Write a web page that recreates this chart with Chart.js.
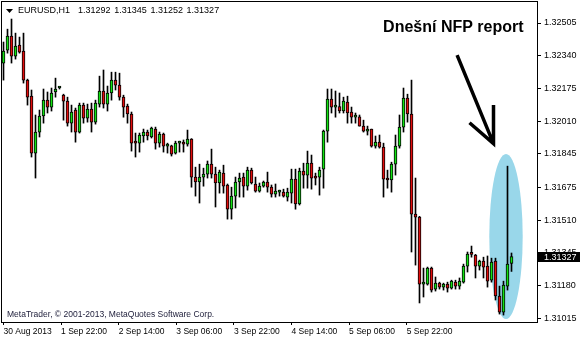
<!DOCTYPE html>
<html>
<head>
<meta charset="utf-8">
<script src="https://cdn.jsdelivr.net/npm/chart.js@4.4.1/dist/chart.umd.min.js"></script>
<style>
    html, body { margin: 0; padding: 0; background: #fff; }
</style>
</head>
<body>
<canvas id="eurusdChart" width="580" height="340"></canvas>
<script>
const symbolTitle = "EURUSD,H1";
const lastBarOhlc = ["1.31292", "1.31345", "1.31252", "1.31327"];
const nfpNote = "Dnešní NFP report";
const copyrightNote = "MetaTrader, © 2001-2013, MetaQuotes Software Corp.";

// hourly bars, oldest first
const openPrices = [
    1.32303, 1.32368, 1.32439, 1.32338, 1.32394, 1.32363, 1.32217, 1.32136, 1.31849, 1.31955,
    1.32036, 1.32116, 1.32081, 1.32157, 1.32177, 1.32141, 1.32111, 1.32000, 1.32066, 1.31955,
    1.32091, 1.32025, 1.32071, 1.32005, 1.32096, 1.32162, 1.32096, 1.32152, 1.32217, 1.32192,
    1.32131, 1.32086, 1.32046, 1.31904, 1.31899, 1.31935, 1.31955, 1.31930, 1.31970, 1.31899,
    1.31945, 1.31884, 1.31886, 1.31849, 1.31899, 1.31904, 1.31894, 1.31920, 1.31728, 1.31703,
    1.31728, 1.31743, 1.31793, 1.31743, 1.31698, 1.31748, 1.31688, 1.31566, 1.31632, 1.31703,
    1.31728, 1.31682, 1.31763, 1.31693, 1.31657, 1.31682, 1.31703, 1.31677, 1.31642, 1.31652,
    1.31652, 1.31627, 1.31647, 1.31718, 1.31592, 1.31758, 1.31738, 1.31798, 1.31728, 1.31728,
    1.31768, 1.31960, 1.32121, 1.32081, 1.32083, 1.32061, 1.32106, 1.32056, 1.32030, 1.32032,
    1.31985, 1.31960, 1.31970, 1.31884, 1.31904, 1.31879, 1.31723, 1.31713, 1.31793, 1.31884,
    1.31980, 1.32126, 1.32046, 1.31541, 1.31526, 1.31188, 1.31188, 1.31269, 1.31163, 1.31193,
    1.31173, 1.31188, 1.31168, 1.31198, 1.31178, 1.31198, 1.31279, 1.31340, 1.31335, 1.31279,
    1.31304, 1.31279, 1.31208, 1.31304, 1.31128, 1.31047, 1.31178, 1.31292
];
const highPrices = [
    1.32409, 1.32474, 1.32525, 1.32454, 1.32434, 1.32454, 1.32222, 1.32167, 1.32041, 1.32066,
    1.32172, 1.32157, 1.32177, 1.32227, 1.32182, 1.32146, 1.32131, 1.32091, 1.32076, 1.32101,
    1.32101, 1.32096, 1.32101, 1.32116, 1.32237, 1.32268, 1.32187, 1.32257, 1.32257, 1.32252,
    1.32141, 1.32096, 1.32056, 1.31950, 1.31950, 1.31970, 1.31965, 1.31980, 1.31980, 1.31955,
    1.31950, 1.31899, 1.31889, 1.31909, 1.31909, 1.31915, 1.31965, 1.31922, 1.31778, 1.31793,
    1.31773, 1.31809, 1.31869, 1.31778, 1.31763, 1.31788, 1.31693, 1.31677, 1.31728, 1.31748,
    1.31748, 1.31778, 1.31773, 1.31728, 1.31698, 1.31708, 1.31753, 1.31688, 1.31693, 1.31662,
    1.31667, 1.31672, 1.31768, 1.31768, 1.31773, 1.31798, 1.31859, 1.31839, 1.31748, 1.31778,
    1.31965, 1.32172, 1.32172, 1.32162, 1.32152, 1.32131, 1.32136, 1.32081, 1.32051, 1.32041,
    1.32015, 1.31985, 1.31970, 1.31935, 1.31940, 1.31899, 1.31763, 1.31803, 1.31940, 1.32041,
    1.32177, 1.32146, 1.32217, 1.31723, 1.31530, 1.31269, 1.31274, 1.31274, 1.31224, 1.31198,
    1.31193, 1.31198, 1.31208, 1.31208, 1.31219, 1.31289, 1.31350, 1.31380, 1.31338, 1.31309,
    1.31324, 1.31330, 1.31319, 1.31319, 1.31178, 1.31203, 1.31783, 1.31345
];
const lowPrices = [
    1.32217, 1.32353, 1.32303, 1.32323, 1.32353, 1.32202, 1.32091, 1.31829, 1.31723, 1.31930,
    1.32000, 1.32051, 1.32061, 1.32131, 1.32172, 1.32015, 1.31985, 1.31955, 1.31904, 1.31950,
    1.32000, 1.32005, 1.31955, 1.31995, 1.32081, 1.32076, 1.32061, 1.32116, 1.32167, 1.32116,
    1.32030, 1.32000, 1.31859, 1.31829, 1.31854, 1.31904, 1.31915, 1.31925, 1.31869, 1.31879,
    1.31854, 1.31849, 1.31834, 1.31844, 1.31854, 1.31854, 1.31884, 1.31677, 1.31632, 1.31597,
    1.31682, 1.31723, 1.31723, 1.31577, 1.31647, 1.31647, 1.31516, 1.31516, 1.31572, 1.31627,
    1.31627, 1.31662, 1.31693, 1.31652, 1.31652, 1.31677, 1.31652, 1.31627, 1.31627, 1.31632,
    1.31627, 1.31607, 1.31597, 1.31566, 1.31587, 1.31672, 1.31672, 1.31667, 1.31688, 1.31637,
    1.31672, 1.31904, 1.32051, 1.32030, 1.32051, 1.32051, 1.32000, 1.32000, 1.32000, 1.31985,
    1.31955, 1.31940, 1.31879, 1.31874, 1.31874, 1.31627, 1.31672, 1.31652, 1.31738, 1.31874,
    1.31955, 1.32005, 1.31350, 1.31284, 1.31093, 1.31123, 1.31183, 1.31148, 1.31153, 1.31163,
    1.31158, 1.31148, 1.31163, 1.31163, 1.31163, 1.31193, 1.31249, 1.31324, 1.31219, 1.31259,
    1.31219, 1.31173, 1.31198, 1.31108, 1.31037, 1.31032, 1.31158, 1.31252
];
const closePrices = [
    1.32363, 1.32439, 1.32338, 1.32389, 1.32358, 1.32217, 1.32131, 1.31849, 1.31955, 1.32036,
    1.32116, 1.32081, 1.32152, 1.32172, 1.32178, 1.32111, 1.32000, 1.32056, 1.31955, 1.32091,
    1.32025, 1.32071, 1.32005, 1.32101, 1.32162, 1.32096, 1.32152, 1.32217, 1.32192, 1.32131,
    1.32081, 1.32046, 1.31899, 1.31899, 1.31940, 1.31955, 1.31935, 1.31975, 1.31899, 1.31945,
    1.31884, 1.31886, 1.31844, 1.31899, 1.31901, 1.31894, 1.31920, 1.31728, 1.31703, 1.31728,
    1.31743, 1.31793, 1.31743, 1.31698, 1.31753, 1.31682, 1.31566, 1.31632, 1.31703, 1.31723,
    1.31682, 1.31763, 1.31698, 1.31657, 1.31682, 1.31703, 1.31677, 1.31642, 1.31657, 1.31654,
    1.31632, 1.31652, 1.31718, 1.31592, 1.31758, 1.31738, 1.31798, 1.31723, 1.31723, 1.31763,
    1.31960, 1.32121, 1.32081, 1.32083, 1.32061, 1.32111, 1.32051, 1.32030, 1.32032, 1.31985,
    1.31960, 1.31965, 1.31884, 1.31904, 1.31879, 1.31718, 1.31713, 1.31793, 1.31884, 1.31980,
    1.32126, 1.32046, 1.31541, 1.31526, 1.31188, 1.31198, 1.31269, 1.31158, 1.31193, 1.31173,
    1.31188, 1.31168, 1.31203, 1.31178, 1.31203, 1.31279, 1.31340, 1.31338, 1.31279, 1.31304,
    1.31274, 1.31203, 1.31299, 1.31128, 1.31047, 1.31183, 1.31289, 1.31327
];

const priceTicks = [1.31015, 1.31180, 1.31345, 1.31510, 1.31675, 1.31845, 1.32010, 1.32175, 1.32340, 1.32505];
const timeTickBars = [0, 14.4, 28.8, 43.2, 57.6, 72, 86.4, 100.8];
const timeTickLabels = ["30 Aug 2013", "1 Sep 22:00", "2 Sep 14:00", "3 Sep 06:00", "3 Sep 22:00", "4 Sep 14:00", "5 Sep 06:00", "5 Sep 22:00"];
const lastPrice = 1.31327;

const bullColor = "#12e212";
const bearColor = "#e20d0d";
const zoneColor = "#99d7ea";
const fontFamily = "'Liberation Sans', Arial, sans-serif";

const barIdx = openPrices.map((_, i) => i);

const mt4Overlay = {
    id: "mt4Overlay",
    beforeDatasetsDraw(chart) {
        const { ctx, scales: { x, y } } = chart;
        // highlighted zone around the NFP candles
        const l = x.getPixelForValue(121.45), r = x.getPixelForValue(129.8);
        const t = y.getPixelForValue(1.31844), b = y.getPixelForValue(1.31012);
        ctx.save();
        ctx.fillStyle = zoneColor;
        ctx.beginPath();
        ctx.ellipse((l + r) / 2, (t + b) / 2, (r - l) / 2, (b - t) / 2, 0, 0, Math.PI * 2);
        ctx.fill();
        ctx.restore();
    },
    afterDatasetsDraw(chart) {
        const { ctx, scales: { x, y } } = chart;
        ctx.save();
        ctx.strokeStyle = "#000";
        ctx.lineWidth = 3.5;
        const tipX = x.getPixelForValue(122.5), tipY = y.getPixelForValue(1.31897);
        ctx.beginPath();
        ctx.moveTo(x.getPixelForValue(113.4), y.getPixelForValue(1.32343));
        ctx.lineTo(tipX, tipY);
        ctx.moveTo(x.getPixelForValue(116.5), y.getPixelForValue(1.32002));
        ctx.lineTo(tipX, tipY);
        ctx.lineTo(tipX, y.getPixelForValue(1.32091));
        ctx.stroke();

        ctx.fillStyle = "#000";
        ctx.font = "bold 16px " + fontFamily;
        ctx.textBaseline = "alphabetic";
        ctx.fillText(nfpNote, x.getPixelForValue(94.9), y.getPixelForValue(1.32459));
        ctx.restore();
    },
    afterDraw(chart) {
        const { ctx, chartArea: ca, scales: { y } } = chart;
        ctx.save();
        // frame
        ctx.strokeStyle = "#000";
        ctx.lineWidth = 1;
        ctx.strokeRect(ca.left + 0.5, ca.top + 0.5, ca.right - ca.left, ca.bottom - ca.top);

        // symbol header
        ctx.fillStyle = "#000";
        ctx.beginPath();
        ctx.moveTo(ca.left + 5, ca.top + 8);
        ctx.lineTo(ca.left + 12, ca.top + 8);
        ctx.lineTo(ca.left + 8.5, ca.top + 12);
        ctx.closePath();
        ctx.fill();
        ctx.font = "9px " + fontFamily;
        ctx.textBaseline = "middle";
        ctx.fillText(symbolTitle, ca.left + 17, ca.top + 10);
        lastBarOhlc.forEach((v, i) => ctx.fillText(v, ca.left + 77 + i * 36.2, ca.top + 10));

        ctx.fillStyle = "#1c1c38";
        ctx.font = "8.5px " + fontFamily;
        ctx.fillText(copyrightNote, ca.left + 6, ca.bottom - 7);

        // current price marker
        const py = Math.round(y.getPixelForValue(lastPrice));
        ctx.fillStyle = "#000";
        ctx.fillRect(ca.right + 1, py - 5, chart.width - ca.right - 1, 10);
        ctx.fillStyle = "#fff";
        ctx.font = "9px " + fontFamily;
        ctx.fillText(lastPrice.toFixed(5), ca.right + 7, py + 0.5);
        ctx.restore();
    }
};

new Chart(document.getElementById("eurusdChart"), {
    type: "bar",
    data: {
        datasets: [
            {
                label: "body",
                data: barIdx.map(i => ({ x: i, y: [openPrices[i], closePrices[i]] })),
                backgroundColor: barIdx.map(i => closePrices[i] >= openPrices[i] ? bullColor : bearColor),
                borderColor: "#000",
                borderWidth: 1,
                borderSkipped: false,
                barThickness: 3,
                minBarLength: 2,
                grouped: false,
                order: 0
            },
            {
                label: "wick",
                data: barIdx.map(i => ({ x: i, y: [lowPrices[i], highPrices[i]] })),
                backgroundColor: "#000",
                borderWidth: 0,
                barThickness: 1,
                grouped: false,
                order: 1
            }
        ]
    },
    options: {
        responsive: false,
        animation: false,
        events: [],
        layout: { padding: { left: 1, top: 1, right: 0, bottom: 0 } },
        plugins: {
            legend: { display: false },
            tooltip: { enabled: false }
        },
        scales: {
            x: {
                type: "linear",
                offset: false,
                min: -0.625,
                max: 133.375,
                border: { display: false },
                grid: { display: true, offset: false, drawOnChartArea: false, drawTicks: true, tickLength: 3, color: "#000" },
                ticks: {
                    autoSkip: false,
                    maxRotation: 0,
                    align: "start",
                    padding: 2,
                    color: "#000",
                    font: { family: fontFamily, size: 8.5 },
                    callback: (value, index) => timeTickLabels[index]
                },
                afterBuildTicks: scale => {
                    scale.ticks = timeTickBars.map(v => ({ value: v }));
                },
                afterFit: scale => {
                    scale.height = 18;
                    scale.paddingLeft = 0;
                    scale.paddingRight = 0;
                }
            },
            y: {
                position: "right",
                min: 1.30997,
                max: 1.32616,
                border: { display: false },
                grid: { display: true, drawOnChartArea: false, drawTicks: true, tickLength: 4, color: "#000" },
                ticks: {
                    padding: 3,
                    color: "#000",
                    font: { family: fontFamily, size: 9 },
                    callback: value => value.toFixed(5)
                },
                afterBuildTicks: scale => {
                    scale.ticks = priceTicks.map(v => ({ value: v }));
                },
                afterFit: scale => {
                    scale.width = 43;
                    scale.paddingTop = 0;
                    scale.paddingBottom = 0;
                }
            }
        }
    },
    plugins: [mt4Overlay]
});
</script>
</body>
</html>
